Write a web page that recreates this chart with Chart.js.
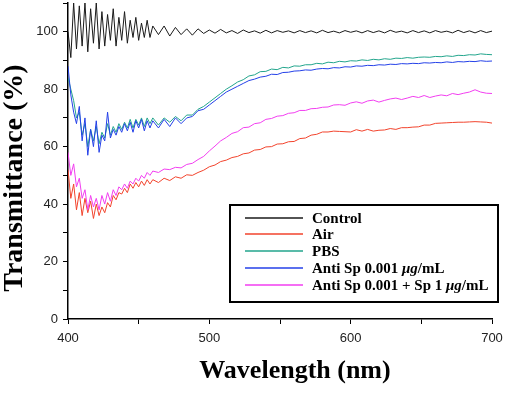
<!DOCTYPE html>
<html>
<head>
<meta charset="utf-8">
<script src="https://cdn.jsdelivr.net/npm/chart.js@4"></script>
<style>
  html, body { margin: 0; padding: 0; background: #fff; }
  #wrap { width: 505px; height: 393px; }
</style>
</head>
<body>
<div id="wrap"><canvas id="chart" width="505" height="393"></canvas></div>
<script>
// wavelength (nm)
const wavelength = [
  400, 402, 404, 406, 408, 410, 412, 414, 416, 418,
  420, 422, 424, 426, 428, 430, 432, 434, 436, 438,
  440, 442, 444, 446, 448, 450, 452, 454, 456, 458,
  460, 464, 468, 472, 476, 480, 484, 488, 492, 496,
  500, 504, 508, 512, 516, 520, 524, 528, 532, 536,
  540, 544, 548, 552, 556, 560, 564, 568, 572, 576,
  580, 584, 588, 592, 596, 600, 604, 608, 612, 616,
  620, 624, 628, 632, 636, 640, 644, 648, 652, 656,
  660, 664, 668, 672, 676, 680, 684, 688, 692, 696,
  700
];

// transmittance (%)
const control = [
  100, 91, 110, 94, 109, 95, 110, 93, 108, 96,
  110, 94, 107, 95, 106, 97, 108, 95, 105, 97,
  107, 96, 104, 98, 105, 97, 103, 98, 104, 98,
  102, 99, 102, 98.5, 101.5, 99, 101, 98.8, 101, 99.4,
  100.6, 99.5, 100.8, 99.6, 100.4, 99.4, 100.6, 99.7, 100.3, 99.5,
  100.5, 99.6, 100.4, 99.8, 100.3, 99.6, 100.4, 99.7, 100.3, 99.6,
  100.5, 99.7, 100.2, 99.6, 100.4, 99.8, 100.3, 99.6, 100.4, 99.7,
  100.3, 99.6, 100.5, 99.8, 100.2, 99.6, 100.4, 99.7, 100.3, 99.6,
  100.4, 99.8, 100.2, 99.6, 100.5, 99.7, 100.3, 99.6, 100.4, 99.7,
  100.2
];

const air = [
  52, 42, 47, 38, 44, 36, 42, 37, 41, 35,
  40, 36, 39, 37, 40.5, 39, 43, 41.5, 44, 43.5,
  45.5, 44, 47, 45.5, 47.5, 46, 48, 46.5, 48.5, 47,
  48.5, 47.5, 49, 48.2, 49.5, 49, 50.2, 50, 51, 51.8,
  53, 53.6, 54.8, 55.3, 56.2, 56.6, 57.5, 57.8, 58.8, 59,
  59.9, 60, 60.9, 61, 61.7, 61.8, 62.8, 63, 64, 64.3,
  65.1, 65.1, 65.4, 65.3, 65.2, 65.1, 65.9, 65.4, 66, 65.4,
  65.7, 65.8, 66.3, 66, 66.6, 66.6, 66.8, 66.9, 67.5, 67.5,
  68.1, 68.2, 68.3, 68.4, 68.5, 68.5, 68.6, 68.7, 68.6, 68.5,
  68.2
];

const pbs = [
  84, 80, 76, 70, 72, 64, 68, 60, 66, 62,
  67, 61, 65, 63, 68, 64, 67, 65, 68, 66,
  68.5, 66.5, 69.5, 66.5, 69.5, 67.5, 70, 67, 70, 68,
  70, 67.5, 70, 68.5, 70.5, 69, 71, 71, 73, 74,
  75.5, 77, 78.5, 80, 81.2, 82.5, 83.3, 84.6, 85, 86.1,
  86.2, 87, 86.8, 87.6, 87.4, 88.1, 88, 88.5, 88.5, 89,
  88.8, 89.4, 89.2, 89.7, 89.5, 89.9, 89.8, 90.2, 90, 90.4,
  90.2, 90.6, 90.4, 90.8, 90.7, 91, 90.8, 91.1, 91.2, 91.1,
  91.4, 91.3, 91.6, 91.4, 91.8, 91.7, 92, 91.9, 92.3, 92.1,
  92
];

const antiSp = [
  88, 78, 72, 68, 74, 62, 70, 57, 66, 60,
  69, 58, 64, 62, 72, 63, 66, 64, 67, 65,
  68, 65.5, 68.5, 65, 69, 66.5, 69.5, 65.5, 69, 66.5,
  69, 66.5, 69.5, 67, 70, 68, 70, 70.5, 72.5, 73,
  74.5, 76, 77.5, 79, 80, 81, 82, 83, 83.5, 84.2,
  84.5, 85.2, 85.1, 85.8, 85.9, 86.3, 86.4, 86.7, 86.6, 87,
  87.2, 87.1, 87.5, 87.4, 87.8, 87.7, 88.1, 88, 88.3, 88.2,
  88.5, 88.4, 88.7, 88.6, 88.9, 88.8, 89, 88.9, 89.2, 89.1,
  89.3, 89.2, 89.5, 89.3, 89.6, 89.5, 89.7, 89.6, 89.9, 89.7,
  89.8
];

const antiSpSp = [
  58, 50, 54, 46, 49, 42, 45, 38, 43, 39,
  42, 38, 43, 40, 44, 41, 45, 43, 46, 45,
  47, 45.5, 48, 47, 49, 48, 50, 49, 51, 50,
  51.5, 51, 52.2, 52, 52.8, 52.6, 53.8, 54.2, 55.5, 56.6,
  58.5, 60.2, 62, 63.2, 64.6, 65.2, 66.6, 66.8, 68, 68.3,
  69.5, 69.8, 70.6, 70.8, 71.6, 71.8, 72.6, 72.6, 73.2, 73.3,
  73.7, 73.8, 74.5, 74.6, 74.4, 75.2, 75.6, 75.1, 75.9, 76.2,
  75.5, 76.1, 76.6, 76.9, 76.4, 76.9, 77.5, 77.1, 77.8, 77.1,
  77.6, 78, 77.7, 78.5, 78.1, 78.6, 79, 79.8, 79, 78.6,
  78.5
];

const seriesNames = ['Control', 'Air', 'PBS', 'Anti Sp 0.001 μg/mL', 'Anti Sp 0.001 + Sp 1 μg/mL'];
const seriesColors = ['#1a1a1a', '#f2432c', '#22a58c', '#2440e8', '#f23ef0'];
const seriesValues = [control, air, pbs, antiSp, antiSpSp];
const seriesOrder = [4, 3, 2, 0, 1]; // lower = drawn on top

const serif = "'Liberation Serif', 'Times New Roman', serif";
const sans = "'Liberation Sans', Arial, sans-serif";

// axis titles + boxed legend inside the plot
const extras = {
  id: 'extras',
  afterDraw(chart) {
    const ctx = chart.ctx;
    ctx.save();
    ctx.fillStyle = '#000';
    ctx.textAlign = 'center';
    ctx.textBaseline = 'middle';

    ctx.font = 'bold 26px ' + serif;
    ctx.fillText('Wavelength (nm)', 295, 371);

    ctx.translate(15, 178);
    ctx.rotate(-Math.PI / 2);
    ctx.font = 'bold 28px ' + serif;
    ctx.fillText('Transmittance (%)', 0, 0);
    ctx.restore();

    // legend box
    ctx.save();
    ctx.strokeStyle = '#000';
    ctx.lineWidth = 2;
    ctx.strokeRect(230, 205, 268, 97);
    const rows = [218, 234, 251, 268, 285];
    ctx.textBaseline = 'middle';
    ctx.textAlign = 'left';
    seriesNames.forEach((name, i) => {
      ctx.strokeStyle = seriesColors[i];
      ctx.lineWidth = 1.5;
      ctx.beginPath();
      ctx.moveTo(245, rows[i]);
      ctx.lineTo(303, rows[i]);
      ctx.stroke();
      // "μg" in italic, the rest upright
      let x = 312;
      const parts = name.split('μg');
      ctx.fillStyle = '#000';
      ctx.font = 'bold 15px ' + serif;
      ctx.fillText(parts[0], x, rows[i] + 1);
      if (parts.length > 1) {
        x += ctx.measureText(parts[0]).width;
        ctx.font = 'italic bold 15px ' + serif;
        ctx.fillText('μg', x, rows[i] + 1);
        x += ctx.measureText('μg').width;
        ctx.font = 'bold 15px ' + serif;
        ctx.fillText(parts[1], x, rows[i] + 1);
      }
    });
    ctx.restore();
  }
};

const ctx = document.getElementById('chart').getContext('2d');
new Chart(ctx, {
  type: 'line',
  data: {
    datasets: seriesNames.map((name, i) => ({
      label: name,
      data: wavelength.map((w, j) => ({ x: w, y: seriesValues[i][j] })),
      borderColor: seriesColors[i],
      borderWidth: 1,
      pointRadius: 0,
      tension: 0,
      fill: false,
      order: seriesOrder[i],
    })),
  },
  options: {
    responsive: false,
    animation: false,
    events: [],
    layout: { padding: { left: 0, right: 13, top: 3, bottom: 0 } },
    plugins: {
      legend: { display: false },
      tooltip: { enabled: false },
    },
    scales: {
      x: {
        type: 'linear',
        min: 400,
        max: 700,
        afterFit: (scale) => {
          scale.height = 74;
          scale.paddingLeft = 0;
          scale.paddingRight = 0;
        },
        border: { color: '#000', width: 1.5 },
        grid: { drawOnChartArea: false, tickLength: 5, color: '#000', tickWidth: 1 },
        ticks: {
          stepSize: 50,
          padding: 7,
          color: '#222',
          font: { family: sans, size: 13 },
          maxRotation: 0,
          callback: (v) => (v % 100 === 0 ? v : ''),
        },
      },
      y: {
        min: 0,
        max: 110,
        afterFit: (scale) => {
          scale.width = 68;
          scale.paddingTop = 0;
          scale.paddingBottom = 0;
        },
        border: { color: '#000', width: 1.5 },
        grid: { drawOnChartArea: false, tickLength: 5, color: '#000', tickWidth: 1 },
        ticks: {
          stepSize: 10,
          padding: 5,
          color: '#222',
          font: { family: sans, size: 13 },
          callback: (v) => (v % 20 === 0 && v <= 100 ? v : ''),
        },
      },
    },
  },
  plugins: [extras],
});
</script>
</body>
</html>
